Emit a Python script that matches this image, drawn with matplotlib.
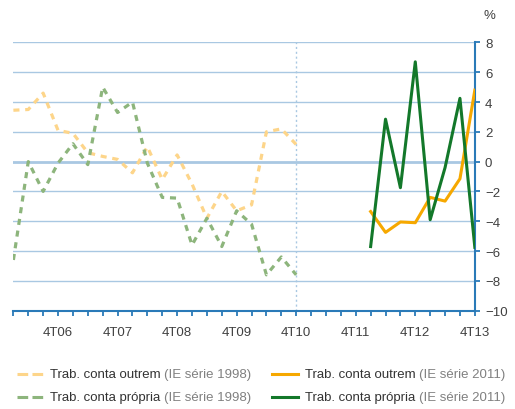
import matplotlib
matplotlib.use("Agg")
import matplotlib.pyplot as plt
from matplotlib.lines import Line2D

plt.rcParams['font.family'] = ['Liberation Sans', 'DejaVu Sans']

# quarters 1T06 .. 4T13 -> positions 0..31
tick_pos = [3, 7, 11, 15, 19, 23, 27, 31]
tick_labels = ['4T06', '4T07', '4T08', '4T09', '4T10', '4T11', '4T12', '4T13']

# IE série 1998 (1T06 .. 4T10)
outrem_1998 = [3.45, 3.5, 4.6, 2.1, 1.9, 0.6, 0.35, 0.15, -0.75, 1.0,
               -1.2, 0.45, -1.5, -3.8, -2.0, -3.3, -2.9, 2.0, 2.2, 1.15]
propria_1998 = [-6.6, 0.0, -2.0, -0.1, 1.2, -0.2, 5.0, 3.3, 4.0, -0.1,
                -2.4, -2.45, -5.6, -3.8, -5.7, -3.3, -4.2, -7.6, -6.4, -7.6]
# IE série 2011 (1T12 .. 4T13)
outrem_2011 = [-3.35, -4.75, -4.05, -4.1, -2.4, -2.65, -1.15, 4.8]
propria_2011 = [-5.7, 2.85, -1.75, 6.7, -3.9, -0.4, 4.25, -5.75]

x_1998 = list(range(0, 20))
x_2011 = list(range(24, 32))

c_out98 = '#fdd58a'
c_pro98 = '#8db57c'
c_out11 = '#f6a800'
c_pro11 = '#13782a'
axis_col = '#2a7ab8'
grid_col = '#a9c8e2'
txt = '#404040'

fig = plt.figure(figsize=(5.15, 4.10), dpi=100)
ax = fig.add_axes([0.026, 0.24, 0.896, 0.654])

ax.set_xlim(0, 31)
ax.set_ylim(-10, 8)

for y in range(-8, 9, 2):
    ax.axhline(y, color=grid_col, lw=1.0 if y != 0 else 2.0, zorder=1)
ax.axvline(19, color=grid_col, lw=1.0, ls=(0, (1.5, 2)), zorder=1)

dash = (0, (1.9, 1.8))
ax.plot(x_1998, outrem_1998, color=c_out98, lw=2.3, ls=dash, zorder=3)
ax.plot(x_1998, propria_1998, color=c_pro98, lw=2.3, ls=dash, zorder=3)
ax.plot(x_2011, outrem_2011, color=c_out11, lw=2.2, zorder=4)
ax.plot(x_2011, propria_2011, color=c_pro11, lw=2.2, zorder=4)

for s in ['top', 'left']:
    ax.spines[s].set_visible(False)
for s in ['bottom', 'right']:
    ax.spines[s].set_color(axis_col)
    ax.spines[s].set_linewidth(1.5)

ax.set_xticks(range(32))
ax.set_xticklabels(['' if i not in tick_pos else tick_labels[tick_pos.index(i)]
                    for i in range(32)])
ax.yaxis.tick_right()
ax.set_yticks(range(-10, 9, 2))
ax.tick_params(axis='both', colors=axis_col, labelcolor=txt, labelsize=9.5,
               length=3.8, width=1.3, direction='out')
ax.tick_params(axis='x', pad=7)
ax.tick_params(axis='y', pad=3.5)

fig.text(0.951, 0.962, '%', color=txt, fontsize=9.5, ha='center', va='center')

# legend built by hand (two-tone labels)
legend_items = [
    (0.033, 0.0854, c_out98, True, 'Trab. conta outrem', '(IE série 1998)'),
    (0.033, 0.0293, c_pro98, True, 'Trab. conta própria', '(IE série 1998)'),
    (0.528, 0.0854, c_out11, False, 'Trab. conta outrem', '(IE série 2011)'),
    (0.528, 0.0293, c_pro11, False, 'Trab. conta própria', '(IE série 2011)'),
]
fig.canvas.draw()
renderer = fig.canvas.get_renderer()
for x0, y0, col, dashed, main, sub in legend_items:
    ls = (0, (3.5, 1.4)) if dashed else '-'
    fig.add_artist(Line2D([x0, x0 + 0.05], [y0, y0], transform=fig.transFigure,
                          color=col, lw=2.2, ls=ls))
    t = fig.text(x0 + 0.064, y0, main, color='#333333', fontsize=9.5, va='center')
    w = t.get_window_extent(renderer).width / fig.bbox.width
    fig.text(x0 + 0.064 + w + 0.007, y0, sub, color='#808080', fontsize=9.5,
             va='center')

fig.savefig('out.png', dpi=100)
